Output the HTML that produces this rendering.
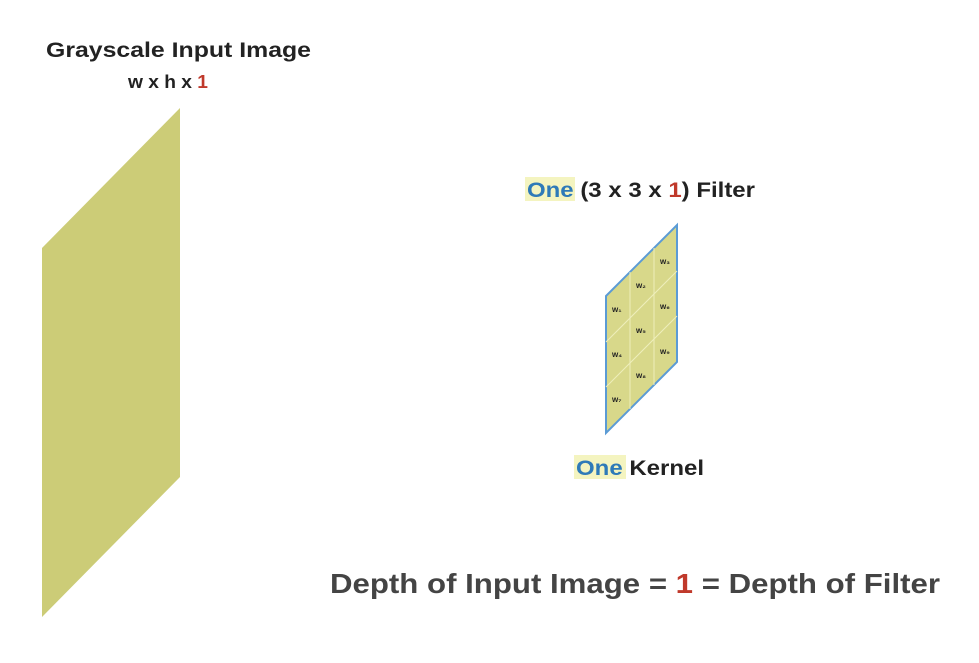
<!DOCTYPE html>
<html><head><meta charset="utf-8"><style>
html,body{margin:0;padding:0;background:#fff;}
svg{display:block;font-family:"Liberation Sans",sans-serif;font-weight:bold;}
</style></head><body>
<svg width="979" height="663" viewBox="0 0 979 663">
<rect width="979" height="663" fill="#fff"/>
<text x="46" y="57" font-size="21" fill="#222" textLength="265" lengthAdjust="spacingAndGlyphs">Grayscale Input Image</text>
<text x="128" y="88" font-size="18" fill="#222" textLength="80" lengthAdjust="spacingAndGlyphs">w x h x <tspan fill="#c0392b">1</tspan></text>
<polygon points="42,248 180,108 180,477 42,617" fill="#cccc77"/>
<rect x="525" y="177" width="50" height="24" fill="#f4f4c0"/>
<text x="527" y="197" font-size="21" fill="#222" textLength="228" lengthAdjust="spacingAndGlyphs"><tspan fill="#2e7ab8">One</tspan> (3 x 3 x <tspan fill="#c0392b">1</tspan>) Filter</text>
<g>
<polygon points="606,296 677,225 677,362 606,433" fill="#d8d88a" stroke="#5b9bd5" stroke-width="2"/>
<g stroke="#ecec b8" stroke-width="1" fill="none" style="stroke:#eeeebb">
<line x1="630" y1="272" x2="630" y2="409"/>
<line x1="654" y1="248" x2="654" y2="385"/>
<line x1="606" y1="342" x2="677" y2="271"/>
<line x1="606" y1="387" x2="677" y2="316"/>
</g>
<g font-size="8" fill="#222">
<text x="612" y="312">w₁</text><text x="636" y="288">w₂</text><text x="660" y="264">w₃</text>
<text x="612" y="357">w₄</text><text x="636" y="333">w₅</text><text x="660" y="309">w₆</text>
<text x="612" y="402">w₇</text><text x="636" y="378">w₈</text><text x="660" y="354">w₉</text>
</g>
</g>
<rect x="574" y="455" width="52" height="24" fill="#f4f4c0"/>
<text x="576" y="475" font-size="21" fill="#222" textLength="128" lengthAdjust="spacingAndGlyphs"><tspan fill="#2e7ab8">One</tspan> Kernel</text>
<text x="330" y="593" font-size="28" fill="#444" textLength="610" lengthAdjust="spacingAndGlyphs">Depth of Input Image = <tspan fill="#c0392b">1</tspan> = Depth of Filter</text>
</svg>
</body></html>
